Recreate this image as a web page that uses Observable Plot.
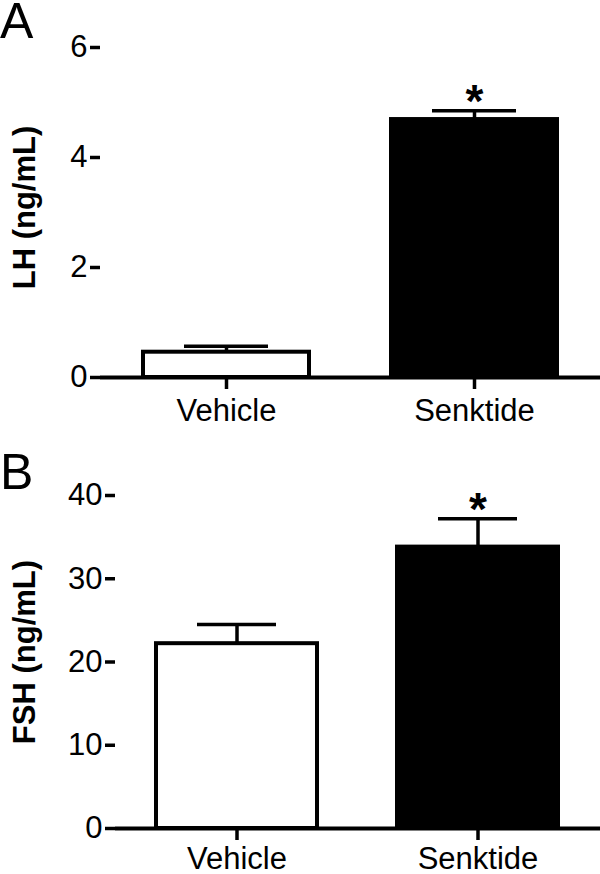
<!DOCTYPE html>
<html><head><meta charset="utf-8">
<script src="https://cdn.jsdelivr.net/npm/d3@7"></script>
<script src="https://cdn.jsdelivr.net/npm/@observablehq/plot@0.6"></script>
<style>
body{margin:0;background:#fff;font-family:"Liberation Sans",Arial,sans-serif;}
.panel{position:relative;width:600px;height:437px;overflow:visible;}
.panel svg{overflow:visible;display:block;}
.letter{position:absolute;left:0;font-size:50px;line-height:1;color:#000;z-index:2;}
</style></head><body>
<div id="a" class="panel"><div class="letter" style="top:-4px">A</div></div>
<div id="b" class="panel"><div class="letter" style="top:10px">B</div></div>
<script>
const categories = ["Vehicle", "Senktide"];
const fills = ["white", "black"];
const significant = ["", "*"];
const lhMean = [0.46, 4.69];
const lhSem = [0.11, 0.16];
const fshMean = [22.2, 33.8];
const fshSem = [2.3, 3.4];
const lhTicks = [0, 2, 4, 6];
const fshTicks = [0, 10, 20, 30, 40];
const lhLabel = "LH (ng/mL)";
const fshLabel = "FSH (ng/mL)";

function panel(id, means, sems, ticks, label, o) {
  const data = categories.map((c, i) => ({cat: c, mean: means[i], upper: means[i] + sems[i], sig: significant[i], fill: fills[i]}));
  const chart = Plot.plot({
    width: 600, height: 437,
    marginLeft: o.ml, marginRight: 0, marginTop: o.mt, marginBottom: o.mb,
    style: {fontFamily: "Liberation Sans, Arial, sans-serif", fontSize: "30px", color: "#000", background: "transparent", overflow: "visible"},
    x: {domain: categories, paddingInner: 0.33, paddingOuter: 0.17, label: null},
    y: {domain: [0, ticks[ticks.length - 1]], label: null},
    color: {type: "identity"},
    marks: [
      Plot.ruleX(data, {x: "cat", y1: "mean", y2: "upper", strokeWidth: 3.5, stroke: "#000"}),
      Plot.tickY(data, {x: "cat", y: "upper", strokeWidth: 3.5, stroke: "#000", insetLeft: 41, insetRight: 41}),
      Plot.barY(data, {x: "cat", y: "mean", fill: "fill", stroke: "#000", strokeWidth: 4}),
      Plot.text(data, {x: "cat", y: "upper", text: "sig", fontSize: 46, fontWeight: "bold", dy: o.sdy, fontFamily: "Liberation Sans, Arial, sans-serif"}),
      Plot.ruleY([0], {strokeWidth: 4, stroke: "#000"}),
      Plot.axisY({ticks, tickFormat: d3.format("d"), tickSize: 10, tickPadding: 3, strokeWidth: 3.5, line: true, fontSize: 31, label, labelAnchor: "center", labelArrow: "none", labelOffset: o.lo}),
      Plot.axisX({tickSize: 12, tickPadding: o.xpad, strokeWidth: 3.5, fontSize: 31, label: null})
    ]
  });
  const lab = chart.querySelector('[aria-label="y-axis label"]');
  if (lab) {
    lab.setAttribute("font-weight", "bold");
    lab.setAttribute("font-size", "31");
    const t = lab.getAttribute("transform") || "";
    lab.setAttribute("transform", (t + ` translate(0,${o.ldy})`).trim());
  }
  document.getElementById(id).appendChild(chart);
}
panel("a", lhMean, lhSem, lhTicks, lhLabel, {ml: 100, mt: 47, mb: 60, lo: 88, xpad: 9, sdy: -8, ldy: -5});
panel("b", fshMean, fshSem, fshTicks, fshLabel, {ml: 115, mt: 58, mb: 46, lo: 103, xpad: 6, sdy: -9, ldy: -10});
</script>
</body></html>
